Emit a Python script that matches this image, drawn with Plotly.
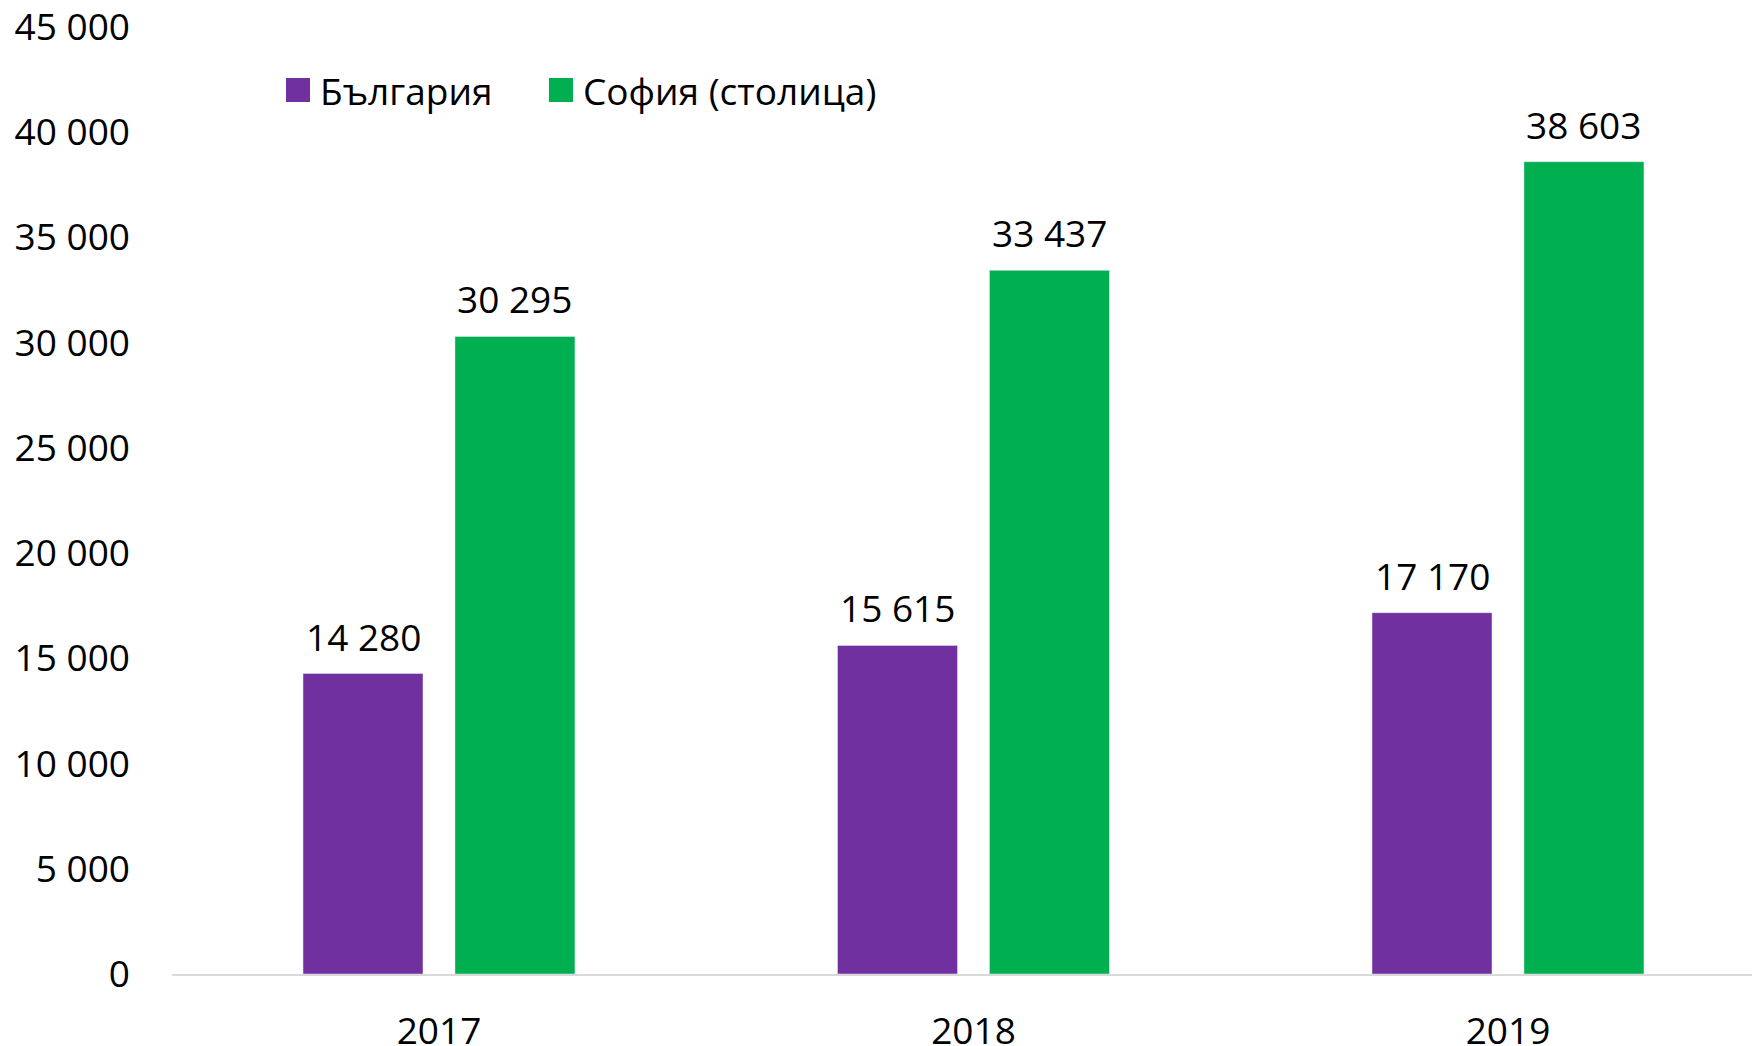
import plotly.graph_objects as go

years = ["2017", "2018", "2019"]
bulgaria = [14280, 15615, 17170]
sofia = [30295, 33437, 38603]
series_names = ["България", "София (столица)"]
y_ticks = [0, 5000, 10000, 15000, 20000, 25000, 30000, 35000, 40000, 45000]
y_tick_labels = ["0", "5 000", "10 000", "15 000", "20 000", "25 000", "30 000", "35 000", "40 000", "45 000"]

PURPLE = "#7030A0"
GREEN = "#00B050"
FONT = "Open Sans"
FS = 37
W = 0.2245
OFF_B = -0.2544
OFF_S = 0.0299

def fmt(v):
    return f"{v:,}".replace(",", " ")

xs = list(range(len(years)))

fig = go.Figure()
fig.add_trace(go.Bar(x=xs, y=bulgaria, name=series_names[0], marker_color=PURPLE,
                     width=W, offset=OFF_B, showlegend=False))
fig.add_trace(go.Bar(x=xs, y=sofia, name=series_names[1], marker_color=GREEN,
                     width=W, offset=OFF_S, showlegend=False))

annotations = []
for i, v in enumerate(bulgaria):
    annotations.append(dict(x=i + OFF_B + W / 2, y=v, xref="x", yref="y", text=fmt(v),
                            showarrow=False, yanchor="bottom", yshift=10,
                            font=dict(family=FONT, size=FS, color="black")))
for i, v in enumerate(sofia):
    annotations.append(dict(x=i + OFF_S + W / 2, y=v, xref="x", yref="y", text=fmt(v),
                            showarrow=False, yanchor="bottom", yshift=10,
                            font=dict(family=FONT, size=FS, color="black")))

# legend (manual, to match large square symbols)
PL, PW, PT, PH = 172, 1588, 27, 947  # plot area in page pixels
leg_y = 1 - (90 - PT) / PH
leg_items = [(series_names[0], PURPLE, 286), (series_names[1], GREEN, 549)]
shapes = []
for name, col, px in leg_items:
    x0 = (px - PL) / PW
    x1 = (px + 24 - PL) / PW
    shapes.append(dict(type="rect", xref="paper", yref="paper", x0=x0, x1=x1,
                       y0=leg_y - 12 / PH, y1=leg_y + 12 / PH,
                       fillcolor=col, line=dict(width=0)))
    annotations.append(dict(x=(px + 32 - PL) / PW, y=leg_y, xref="paper", yref="paper",
                            text=name, showarrow=False, xanchor="left", yanchor="middle",
                            font=dict(family=FONT, size=FS, color="black")))

# page body has an 8px margin; compensate so plot area sits at the reference position
fig.update_layout(
    width=1752, height=1038,
    margin=dict(l=164, r=0, t=19, b=72),
    paper_bgcolor="white", plot_bgcolor="white",
    barmode="overlay",
    font=dict(family=FONT, size=FS, color="black"),
    annotations=annotations, shapes=shapes,
    xaxis=dict(range=[-0.4995, 2.4715], tickvals=xs, ticktext=years,
               showline=True, linecolor="#D9D9D9", linewidth=2,
               showgrid=False, zeroline=False, ticks="", automargin=False,
               ticklabelstandoff=24, ticklabeloverflow="allow",
               tickfont=dict(family=FONT, size=FS, color="black")),
    yaxis=dict(range=[0, 45002], tickvals=y_ticks, ticktext=y_tick_labels,
               showgrid=False, zeroline=False, showline=False, ticks="",
               ticklabelstandoff=41, automargin=False, ticklabeloverflow="allow",
               tickfont=dict(family=FONT, size=FS, color="black")),
)

fig.write_html("out.html")
